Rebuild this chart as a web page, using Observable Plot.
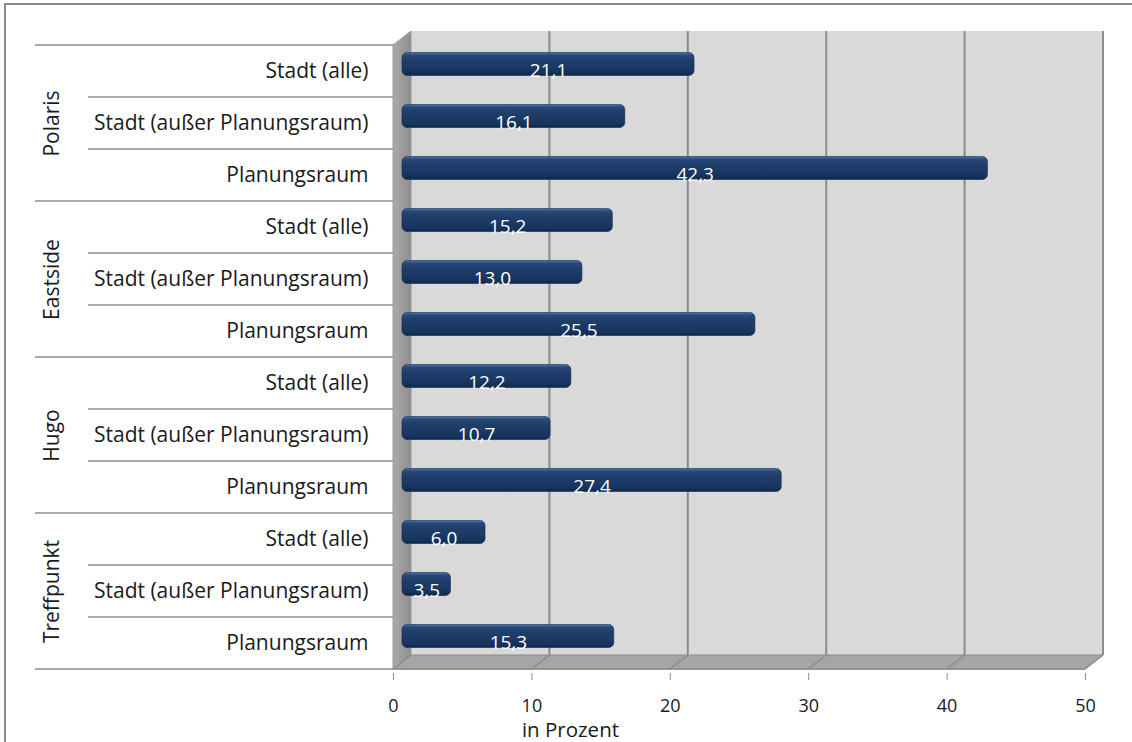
<!DOCTYPE html>
<html>
<head>
<meta charset="utf-8">
<script src="https://cdn.jsdelivr.net/npm/d3@7"></script>
<script src="https://cdn.jsdelivr.net/npm/@observablehq/plot@0.6"></script>
<style>
  html, body { margin: 0; padding: 0; background: #fff; overflow: hidden; }
  #wrap { position: relative; width: 1132px; height: 742px; }
  #border { position: absolute; left: 4px; top: 3px; right: -20px; bottom: -20px;
            border: 2px solid #8c8c8c; pointer-events: none; }
  svg { display: block; }
</style>
</head>
<body>
<div id="wrap"><div id="border"></div></div>
<script>
// ---- data ----
const groups = ["Polaris", "Eastside", "Hugo", "Treffpunkt"];
const categories = ["Stadt (alle)", "Stadt (außer Planungsraum)", "Planungsraum"];
const polaris = [21.1, 16.1, 42.3];
const eastside = [15.2, 13.0, 25.5];
const hugo = [12.2, 10.7, 27.4];
const treffpunkt = [6.0, 3.5, 15.3];
const xTicks = [0, 10, 20, 30, 40, 50];
const xTitle = "in Prozent";

// ---- build table ----
const seriesByGroup = [polaris, eastside, hugo, treffpunkt];
const rows = [];
groups.forEach((g, gi) => {
  categories.forEach((c, ci) => {
    rows.push({group: g, cat: c, ci, key: g + "|" + c, value: seriesByGroup[gi][ci]});
  });
});
const groupRows = groups.map(g => ({group: g, key: g + "|" + categories[1]}));
const keys = rows.map(d => d.key);
const fmt = v => v.toFixed(1).replace(".", ",");

const DX = 18, DY = -14;        // depth of the 3D box
const FONT = "'Open Sans', 'DejaVu Sans', sans-serif";

// 3D box (back wall, side wall, floor, gridlines) + category separator lines
function box(index, scales) {
  const x = scales.x, y = scales.y;
  const bw = y(keys[1]) - y(keys[0]);
  const top = y(keys[0]);
  const bottom = y(keys[keys.length - 1]) + bw;
  const xMin = x(xTicks[0]), xMax = x(xTicks[xTicks.length - 1]);
  const g = d3.create("svg:g");
  const defs = g.append("defs");
  const sg = defs.append("linearGradient").attr("id", "sideGrad")
    .attr("x1", 0).attr("x2", 1).attr("y1", 0).attr("y2", 0);
  sg.append("stop").attr("offset", 0).attr("stop-color", "#ababab");
  sg.append("stop").attr("offset", 0.5).attr("stop-color", "#9c9c9c");
  sg.append("stop").attr("offset", 1).attr("stop-color", "#8e8e8e");
  const bg = defs.append("linearGradient").attr("id", "barGrad")
    .attr("x1", 0).attr("x2", 0).attr("y1", 0).attr("y2", 1);
  [[0, "#5a7cab"], [0.1, "#2a4c7d"], [0.3, "#1f3f6c"], [0.7, "#1a3863"], [0.92, "#142f57"], [1, "#0d2242"]]
    .forEach(([o, c]) => bg.append("stop").attr("offset", o).attr("stop-color", c));

  // back wall
  g.append("rect").attr("x", xMin + DX).attr("y", top + DY)
    .attr("width", xMax - xMin).attr("height", bottom - top).attr("fill", "#d9d9d9");
  // floor
  g.append("polygon")
    .attr("points", [[xMin, bottom], [xMax, bottom], [xMax + DX, bottom + DY], [xMin + DX, bottom + DY]].join(" "))
    .attr("fill", "#a5a5a5").attr("stroke", "#8c8c8c").attr("stroke-width", 1);
  // side wall
  g.append("polygon")
    .attr("points", [[xMin, top], [xMin + DX, top + DY], [xMin + DX, bottom + DY], [xMin, bottom]].join(" "))
    .attr("fill", "url(#sideGrad)").attr("stroke", "#9a9a9a").attr("stroke-width", 1);
  // gridlines on back wall and floor
  xTicks.forEach(t => {
    const px = x(t);
    if (t !== xTicks[0]) {
      g.append("line").attr("x1", px + DX).attr("x2", px + DX)
        .attr("y1", top + DY).attr("y2", bottom + DY)
        .attr("stroke", "#8c8c8c").attr("stroke-width", 2);
    }
    g.append("line").attr("x1", px).attr("x2", px + DX)
      .attr("y1", bottom).attr("y2", bottom + DY)
      .attr("stroke", "#8c8c8c").attr("stroke-width", 1.5);
  });
  // front floor edge
  g.append("line").attr("x1", xMin).attr("x2", xMax).attr("y1", bottom).attr("y2", bottom)
    .attr("stroke", "#8c8c8c").attr("stroke-width", 1.5);
  // category separator lines
  rows.forEach(d => {
    g.append("line").attr("x1", d.ci === 0 ? 35 : 88).attr("x2", xMin)
      .attr("y1", y(d.key)).attr("y2", y(d.key))
      .attr("stroke", "#8f8f8f").attr("stroke-width", 1.5);
  });
  g.append("line").attr("x1", 35).attr("x2", xMin).attr("y1", bottom).attr("y2", bottom)
    .attr("stroke", "#8f8f8f").attr("stroke-width", 1.5);
  return g.node();
}

const chart = Plot.plot({
  width: 1132,
  height: 742,
  marginLeft: 393,
  marginRight: 47,
  marginTop: 40,
  marginBottom: 69,
  style: {fontFamily: FONT, fontSize: "18px", color: "#1a1a1a", background: "transparent"},
  x: {domain: [xTicks[0], xTicks[xTicks.length - 1]], axis: null},
  y: {domain: keys, axis: null, padding: 0},
  marks: [
    box,
    Plot.barX(rows, {
      x: "value", y: "key", fill: "url(#barGrad)", stroke: "#112a4f", strokeWidth: 0.6,
      dx: DX / 2, dy: DY / 2, insetTop: 14.5, insetBottom: 14.5, rx: 5
    }),
    Plot.text(rows, {
      x: d => d.value / 2, y: "key", text: d => fmt(d.value), fill: "white",
      dx: DX / 2, dy: -1, fontSize: 19
    }),
    Plot.text(rows, {
      y: "key", text: "cat", frameAnchor: "left", textAnchor: "end", dx: -25,
      fontSize: 21, fill: "#1a1a1a"
    }),
    Plot.text(groupRows, {
      y: "key", text: "group", frameAnchor: "left", textAnchor: "middle", lineAnchor: "middle",
      dx: -341, rotate: -90, fontSize: 21, fill: "#1a1a1a"
    }),
    Plot.axisX(xTicks, {
      tickSize: 7, tickPadding: 19, stroke: "#8c8c8c", fill: "#1a1a1a",
      fontSize: 18, label: null, tickFormat: d => String(d)
    }),
    Plot.text([xTitle], {
      x: () => xTicks[1], text: d => d, frameAnchor: "bottom", textAnchor: "start",
      lineAnchor: "middle", dx: -10, dy: 57, fontSize: 20.5, fill: "#1a1a1a"
    })
  ]
});
document.getElementById("wrap").prepend(chart);
</script>
</body>
</html>
